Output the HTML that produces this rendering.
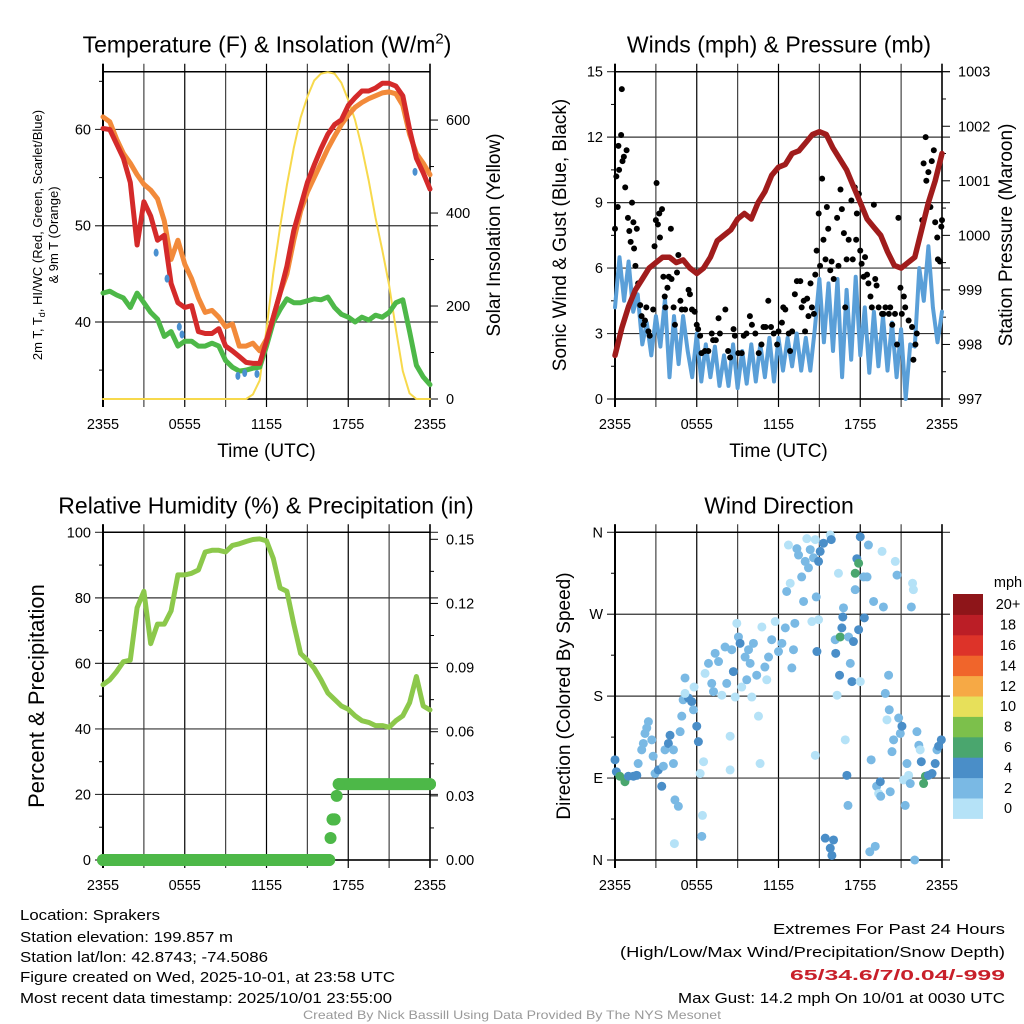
<!DOCTYPE html>
<html><head><meta charset="utf-8"><style>
html,body{margin:0;padding:0;background:#fff;}
svg{display:block;font-family:"Liberation Sans",sans-serif;}
</style></head><body>
<svg id="c" width="1024" height="1024" viewBox="0 0 1024 1024" xmlns="http://www.w3.org/2000/svg">
<rect width="1024" height="1024" fill="#fff"/>
<g id="p1"></g>
<g id="p2"></g>
<g id="p3"></g>
<g id="p4"></g>
<g font-size="14.5" fill="#000">
<text x="20" y="920" textLength="140" lengthAdjust="spacingAndGlyphs">Location: Sprakers</text>
<text x="20" y="942" textLength="213" lengthAdjust="spacingAndGlyphs">Station elevation: 199.857 m</text>
<text x="20" y="962" textLength="248" lengthAdjust="spacingAndGlyphs">Station lat/lon: 42.8743; -74.5086</text>
<text x="20" y="982" textLength="375" lengthAdjust="spacingAndGlyphs">Figure created on Wed, 2025-10-01, at 23:58 UTC</text>
<text x="20" y="1003" textLength="372" lengthAdjust="spacingAndGlyphs">Most recent data timestamp: 2025/10/01 23:55:00</text>
</g>
<g font-size="14.5" text-anchor="end">
<text x="1005" y="934" textLength="232" lengthAdjust="spacingAndGlyphs">Extremes For Past 24 Hours</text>
<text x="1005" y="957" textLength="385" lengthAdjust="spacingAndGlyphs">(High/Low/Max Wind/Precipitation/Snow Depth)</text>
<text x="1005" y="980" fill="#c8202a" font-weight="bold" textLength="215" lengthAdjust="spacingAndGlyphs">65/34.6/7/0.04/-999</text>
<text x="1005" y="1003" textLength="327" lengthAdjust="spacingAndGlyphs">Max Gust: 14.2 mph On 10/01 at 0030 UTC</text>
</g>
<text x="512" y="1019" font-size="12" fill="#999" text-anchor="middle" textLength="418" lengthAdjust="spacingAndGlyphs">Created By Nick Bassill Using Data Provided By The NYS Mesonet</text>
</svg>
<script>
// ---- data (hours since 2355 UTC) ----
const timeTicks = ["2355","0555","1155","1755","2355"];
const temp2m = [60.1,60,58.5,57,54.5,48,52.5,51,48.5,49,44,42,41.5,41.7,39,38.8,38.8,39.3,37.5,37,36.4,35.8,35.7,35.7,38,40.5,43,45.8,49.5,52,54.5,56.3,58,59.5,60.5,61,62.5,63.3,64,64,64.3,64.8,64.8,64.5,63.5,60,57,55.5,53.8];
const temp9m = [61.3,60.8,59,57.5,56.5,55.3,54.3,53.7,52.8,50.5,46.5,48.5,46,44.5,42.5,41,41.2,40.5,39.5,39.8,37.5,37.5,37.8,37,38.2,40.5,43,45,48.5,51.5,53.5,55,56.5,58,59.3,60.5,61.5,62.3,62.8,63.2,63.5,63.8,63.9,63.7,62.5,59.5,57.5,56.5,55.3];
const dewpoint = [43,43.2,42.8,42.5,41.5,43,42,41,40.3,38.5,39,37.5,38,38,37.5,37.5,37.8,37.5,36,35.3,34.9,35,35.2,35.3,37.5,40,41.3,42.4,42,42,42.2,42.4,42.3,42.6,41.5,40.8,40.5,40,40.5,40.2,40.7,40.5,41,42,42.3,39,35.5,34.3,33.5];
const windChillT = [3.9,4.7,5.6,5.8,9.9,10.4,11.3,22.9];
const windChillV = [47.2,44.5,39.5,38.7,34.4,34.7,34.6,55.6];
const solar = [0,0,0,0,0,0,0,0,0,0,0,0,0,0,0,0,0,0,0,0,0,0,10,40,150,270,370,460,540,605,650,685,700,703,700,680,643,600,540,470,390,320,245,150,60,12,0,0,0];
const pressure = [997.8,998.3,998.7,999.0,999.2,999.4,999.5,999.6,999.6,999.5,999.55,999.4,999.3,999.4,999.6,999.9,1000.0,1000.1,1000.3,1000.4,1000.3,1000.6,1000.8,1001.1,1001.25,1001.3,1001.5,1001.55,1001.7,1001.85,1001.9,1001.85,1001.6,1001.4,1001.2,1000.9,1000.6,1000.3,1000.15,1000.0,999.7,999.45,999.4,999.5,999.6,1000.1,1000.6,1001.0,1001.5];
const windSpeed = [4.2,6.5,4.5,6.3,4.0,4.8,2.5,3.5,2.0,3.8,2.4,4.6,1.0,3.8,1.6,3.8,2.2,1.0,3.0,0.8,2.5,1.0,2.4,0.6,2.0,0.6,2.5,0.5,2.2,0.7,2.5,0.8,2.5,1.0,2.8,0.8,2.8,1.3,2.8,1.5,3.0,1.3,2.8,1.3,3.2,5.5,2.6,5.3,2.2,5.5,1.0,5.0,1.8,5.6,2.0,4.2,1.2,4.0,1.5,3.8,1.3,3.5,1.0,3.2,0.0,2.5,2.4,6.0,4.5,7.0,4.2,2.6,4.0];
const gustT = [0,0.1,0.2,0.25,0.3,0.45,0.5,0.55,0.65,0.75,0.85,0.95,1.05,1.15,1.25,1.35,1.4,1.5,1.6,1.7,1.85,1.95,2.1,2.2,2.3,2.45,2.55,2.8,2.9,3.0,3.05,3.15,3.25,3.3,3.45,3.55,3.65,3.7,3.85,3.95,4.1,4.15,4.3,4.4,4.55,4.65,4.8,4.9,5.15,5.4,5.5,5.65,5.85,6.0,6.1,6.25,6.35,6.6,6.85,7.1,7.2,7.4,7.6,7.7,8.1,8.3,8.45,8.7,8.8,9.05,9.3,9.45,9.65,9.9,10.05,10.3,10.55,10.75,10.9,11.05,11.25,11.45,11.65,11.9,12.0,12.25,12.35,12.5,12.75,12.85,13.0,13.2,13.35,13.6,13.7,13.85,13.95,14.1,14.2,14.35,14.45,14.6,14.7,14.8,14.95,15.05,15.2,15.3,15.45,15.55,15.65,15.8,15.9,16.05,16.3,16.4,16.55,16.65,16.8,16.9,17.0,17.15,17.35,17.45,17.6,17.7,17.75,17.9,18.0,18.1,18.25,18.35,18.5,18.6,18.75,18.85,19.0,19.1,19.2,19.35,19.6,19.7,19.85,20.1,20.2,20.35,20.55,20.7,20.8,20.95,21.05,21.2,21.3,21.55,21.8,21.9,22.05,22.15,22.55,22.65,22.8,22.85,23.0,23.15,23.25,23.4,23.5,23.65,23.7,23.85,23.95,24];
const gustV = [7.8,10.2,8.8,11.6,10.5,12.1,14.2,10.9,11.1,9.7,11.4,8.3,7.7,7.2,9.0,8.1,6.9,6.1,7.8,5.3,4.3,3.8,3.4,3.6,4.2,3.1,2.9,4.1,7.0,8.2,9.9,8.0,8.5,7.4,8.7,5.6,4.7,4.2,5.1,5.6,7.8,5.5,4.2,3.4,5.8,6.6,4.5,4.1,4.1,5.0,4.8,4.1,4.0,3.4,3.2,2.9,2.1,2.2,2.2,3.0,2.7,2.7,3.7,3.0,4.1,2.2,1.9,3.2,2.9,2.1,2.1,2.9,3.0,3.8,3.4,3.0,2.1,2.5,3.3,3.3,4.5,3.3,3.0,2.5,3.1,3.5,4.2,4.1,3.0,2.2,3.1,4.8,5.4,5.4,4.2,4.5,3.1,4.6,3.8,5.3,4.2,3.9,5.7,6.8,8.5,6.1,10.1,7.3,6.4,8.8,7.8,5.9,6.3,5.5,8.3,6.1,9.6,8.7,7.6,4.2,6.4,7.3,9.1,6.4,9.7,7.3,8.5,9.4,6.8,6.2,5.6,6.5,5.7,5.3,4.7,4.2,8.9,5.5,5.2,4.2,3.9,3.9,4.2,3.9,4.2,3.4,3.9,2.5,8.3,5.1,3.9,4.7,4.2,3.6,3.3,1.8,2.5,3.0,8.2,10.8,12.0,10.0,10.4,8.8,10.9,11.4,8.1,7.4,6.4,6.3,7.9,8.2];
const rh = [53.5,55,57.5,60.5,61,77,82,66,72,72,76,87,87,87.5,88.5,94,94.5,94.5,94,96,96.5,97.2,97.8,98,97.4,92,83,82,72,63,61,58.5,55,51,49,47,46,44,42.5,42,41,41,40.5,42.5,44,48,56,47,45.8];
const precipT = [0,16.6,16.7,16.85,17.0,17.15,17.3,24];
const precipV = [0,0,0.0103,0.019,0.019,0.030,0.0355,0.0355];
const dirT = [0,0.1,0.35,0.73,0.98,1.35,1.6,1.7,1.96,2.08,2.2,2.33,2.45,2.7,2.8,2.94,3.18,3.43,3.55,3.67,3.92,4.04,4.29,4.29,4.4,4.65,4.36,4.78,4.9,5.0,5.14,5.39,5.63,5.76,6.0,6.12,5.14,5.8,6.25,6.5,6.42,6.37,6.61,6.86,7.1,7.23,7.35,7.6,7.84,8.08,8.2,8.45,8.45,8.57,8.69,8.82,8.94,9.06,9.18,9.3,9.55,9.67,9.8,9.92,10.04,10.16,10.4,10.53,10.65,10.78,11.0,11.14,11.27,11.5,11.76,12,12.25,12.5,12.6,12.73,12.86,12.98,13.1,13.2,13.35,13.47,13.7,13.84,13.96,14.08,14.2,14.33,14.45,14.57,14.7,14.77,14.82,14.94,15.06,15.3,15.8,15.87,14.94,14.7,15.43,15.8,15.92,16.04,16.3,16.16,16.2,16.4,16.48,16.53,16.65,16.77,16.72,16.9,17.02,17.1,17.14,17.27,17.39,17.5,17.63,17.63,17.75,17.88,17.88,18.0,18.0,18.25,18.3,18.5,18.6,18.7,18.8,18.98,19.1,19.2,19.35,19.47,19.5,19.6,19.7,19.84,19.96,20.08,20.13,20.2,20.33,20.45,20.57,20.7,20.82,20.94,21.06,21.18,21.3,21.43,21.55,21.67,21.75,21.84,21.9,22,22.16,22.3,22.4,22.48,22.65,22.78,23.0,23.27,23.5,23.63,23.75,23.95];
const dirV = [110,97,92,86,92,92,93,106,121,128,139,145,152,132,114,95,99,81,103,121,128,137,121,106,66,59,18,141,158,176,200,178,174,165,147,130,183,190,95,108,49,26,205,216,194,185,227,218,181,234,194,136,99,231,207,179,260,245,238,190,223,198,231,216,179,238,203,158,106,256,212,198,223,242,262,229,238,255,295,346,304,211,231,260,342,335,311,284,328,353,321,341,262,332,352,289,229,328,339,348,357,352,264,115,24,13,5,22,181,242,227,315,203,245,255,277,267,132,93,60,245,216,196,240,297,315,331,326,253,196,355,311,266,311,346,9,110,284,15,81,73,86,70,339,278,183,154,203,165,75,119,132,328,313,156,139,147,88,60,106,93,84,278,304,297,0,141,126,121,108,84,92,93,95,106,121,125,132];
const dirSpd = [5,5,7,7,5,5,5,3,3,3,3,3,3,3,3,3,5,5,3,3,5,5,3,3,3,3,1,3,3,3,3,5,5,3,5,5,1,1,1,1,1,3,1,3,3,3,3,3,1,3,3,1,1,3,5,1,1,3,5,1,3,3,3,3,1,3,3,1,1,1,3,1,3,3,1,3,3,3,3,1,1,3,3,3,3,3,3,3,3,1,3,3,1,3,1,3,5,5,5,5,1,5,1,1,5,5,5,5,1,3,5,1,5,7,5,3,5,1,5,3,3,3,5,5,3,7,5,7,5,1,5,3,5,3,3,3,3,3,3,3,1,5,3,1,3,3,1,3,3,3,3,3,1,3,3,3,5,1,3,3,1,3,3,1,1,3,3,3,1,5,7,7,5,5,5,3,5,5];
const tempTicks = [40,50,60];
const solarTicks = [0,200,400,600];
const windTicks = [0,3,6,9,12,15];
const presTicks = [997,998,999,1000,1001,1002,1003];
const rhTicks = [0,20,40,60,80,100];
const precipTicks = ["0.00","0.03","0.06","0.09","0.12","0.15"];
const dirTicks = ["N","E","S","W","N"];
const spdLevels = ["0","2","4","6","8","10","12","14","16","18","20+"];
const spdColors = ["#b5e2f7","#7ab9e4","#4a8ec8","#4aa66e","#7cc04b","#e7e05a","#f6a945","#f0652b","#dd3329","#bb1e26","#8e1519"];

const NS="http://www.w3.org/2000/svg";
function el(parent,tag,attrs){const e=document.createElementNS(NS,tag);for(const k in attrs)e.setAttribute(k,attrs[k]);parent.appendChild(e);return e;}
function lin(d0,d1,r0,r1){return v=>r0+(v-d0)*(r1-r0)/(d1-d0);}
function hoursOf(arr){return arr.map((_,i)=>i*24/(arr.length-1));}

function frame(g,L,R,T,B,yTicks,yFn,yLabels,rTicks,rFn,rLabels,title,titleX,xTitle){
  const X=lin(0,24,L,R);
  for(let h=0;h<=24;h+=3){
    const x=X(h);
    const l=el(g,'line',{x1:x,x2:x,y1:T-8,y2:B+8,stroke:(h%6===0)?'#000':'#444','stroke-width':1.2});
    
    
  }
  // minor ticks on left axis (midpoints)
  for(let i=0;i<yTicks.length;i++){
    const y=yFn(yTicks[i]);
    const y2=i+1<yTicks.length?yFn(yTicks[i+1]):y-(yFn(yTicks[0])-yFn(yTicks[1]));
    const ym=(y+y2)/2;
    if(ym>=T-1&&ym<=B+1) el(g,'line',{x1:L-4,x2:L,y1:ym,y2:ym,stroke:'#000','stroke-width':1});
    const yb=y+(y-y2)/2;
    if(i===0&&yb>=T-1&&yb<=B+1) el(g,'line',{x1:L-4,x2:L,y1:yb,y2:yb,stroke:'#000','stroke-width':1});
  }
  yTicks.forEach((v,i)=>{
    const y=yFn(v);
    const l=el(g,'line',{x1:L-8,x2:R+8,y1:y,y2:y,stroke:'#333','stroke-width':1.2});
    
    
    const t=el(g,'text',{x:L-12,y:y+5,'font-size':14.5,'text-anchor':'end'});
    t.textContent=yLabels[i];
    
    
  });
  if(rTicks){rTicks.forEach((v,i)=>{
    const y=rFn(v);
    el(g,'line',{x1:R,x2:R+8,y1:y,y2:y,stroke:'#000','stroke-width':1});
    if(i+1<rTicks.length){const ym=(y+rFn(rTicks[i+1]))/2; el(g,'line',{x1:R,x2:R+4,y1:ym,y2:ym,stroke:'#000','stroke-width':1});}
    const t=el(g,'text',{x:R+16,y:y+5,'font-size':14.5});
    t.textContent=rLabels[i];
    
    
  });}
  el(g,'line',{x1:L,x2:R,y1:T,y2:T,stroke:'#000','stroke-width':1.5});
  el(g,'line',{x1:L,x2:R,y1:B,y2:B,stroke:'#000','stroke-width':1.5});
  el(g,'line',{x1:L,x2:L,y1:T-8,y2:B+8,stroke:'#000','stroke-width':2});
  el(g,'line',{x1:R,x2:R,y1:T-8,y2:B+8,stroke:'#000','stroke-width':1.5});
  timeTicks.forEach((s,i)=>{
    const t=el(g,'text',{x:X(i*6),y:B+30,'font-size':14.5,'text-anchor':'middle'});
    t.textContent=s;
    
    
  });
  const tt=el(g,'text',{x:titleX,y:T-19,'font-size':23,'text-anchor':'middle'});
  tt.innerHTML=title;
  
  
  if(xTitle){const xt=el(g,'text',{x:(L+R)/2,y:B+58,'font-size':19,'text-anchor':'middle'});
    xt.textContent=xTitle;
    
    }
  return X;
}
function line(g,X,Y,ts,vs,color,w,name){
  const d=ts.map((t,i)=>(i?'L':'M')+X(t).toFixed(1)+','+Y(vs[i]).toFixed(1)).join('');
  const p=el(g,'path',{d:d,fill:'none',stroke:color,'stroke-width':w,'stroke-linejoin':'round','stroke-linecap':'round'});
  
  
  return p;
}
function vlabel(g,x,y,size,txt,name){
  const t=el(g,'text',{x:x,y:y,'font-size':size,'text-anchor':'middle',transform:`rotate(-90 ${x} ${y})`});
  t.innerHTML=txt;
  
  
}

// Panel 1
(function(){
  const g=document.getElementById('p1');
  const L=103,R=430,T=71.7,B=399;
  const Y=lin(32,66,B,T), YS=lin(0,704,B,T);
  const X=frame(g,L,R,T,B,tempTicks,Y,tempTicks.map(String),solarTicks,YS,solarTicks.map(String),'Temperature (F) &amp; Insolation (W/m<tspan dy="-9" font-size="15">2</tspan><tspan dy="9">)</tspan>',267,'Time (UTC)');
  line(g,X,YS,hoursOf(solar),solar,'#f7d94c',2,'solar-insolation-line');
  line(g,X,Y,hoursOf(dewpoint),dewpoint,'#4db848',5,'dewpoint-line');
  line(g,X,Y,hoursOf(temp9m),temp9m,'#f28a3a',5,'temp-9m-line');
  line(g,X,Y,hoursOf(temp2m),temp2m,'#d42a2a',5,'temp-2m-line');
  windChillT.forEach((t,i)=>{
    const c=el(g,'ellipse',{cx:X(t),cy:Y(windChillV[i]),rx:2.5,ry:4,fill:'#4a90d0'});
    
    
  });
  vlabel(g,42,235,13,'2m T, T<tspan dy="3" font-size="9">d</tspan><tspan dy="-3">, HI/WC (Red, Green, Scarlet/Blue)</tspan>','left-axis-title-line1');
  vlabel(g,58,235,13,'&amp; 9m T (Orange)','left-axis-title-line2');
  vlabel(g,500,235,19,'Solar Insolation (Yellow)','right-axis-title');
})();

// Panel 2
(function(){
  const g=document.getElementById('p2');
  const L=615,R=942,T=71.7,B=399;
  const Y=lin(0,15,B,T), YP=lin(997,1003,B,T);
  const X=frame(g,L,R,T,B,windTicks,Y,windTicks.map(String),presTicks,YP,presTicks.map(String),'Winds (mph) &amp; Pressure (mb)',779,'Time (UTC)');
  line(g,X,Y,hoursOf(windSpeed),windSpeed,'#5a9fd8',4,'sonic-wind-line');
  gustT.forEach((t,i)=>{
    const c=el(g,'circle',{cx:X(t),cy:Y(gustV[i]),r:3,fill:'#000'});
    
    
  });
  line(g,X,YP,hoursOf(pressure),pressure,'#a01c1c',5.5,'pressure-line');
  vlabel(g,566,235,19,'Sonic Wind &amp; Gust (Blue, Black)','left-axis-title');
  vlabel(g,1012,235,19,'Station Pressure (Maroon)','right-axis-title');
})();

// Panel 3
(function(){
  const g=document.getElementById('p3');
  const L=103,R=430,T=532.3,B=860;
  const Y=lin(0,100,B,T), YP=lin(0,0.15,B,539.3);
  frame(g,L,R,T,B,rhTicks,Y,rhTicks.map(String),precipTicks.map(Number),YP,precipTicks,'Relative Humidity (%) &amp; Precipitation (in)',266,null);
  const X=lin(0,24,L,R);
  line(g,X,Y,hoursOf(rh),rh,'#8cc84b',5,'relative-humidity-line');
  for(let i=1;i<precipT.length;i++){
    if(precipV[i]===precipV[i-1]){
      const l=el(g,'line',{x1:X(precipT[i-1]),x2:X(precipT[i]),y1:YP(precipV[i]),y2:YP(precipV[i]),stroke:'#4db848','stroke-width':12,'stroke-linecap':'round'});
      
      
    }
  }
  precipT.forEach((t,i)=>{
    const c=el(g,'circle',{cx:X(t),cy:YP(precipV[i]),r:6,fill:'#4db848'});
    
    
  });
  vlabel(g,44,696,22,'Percent &amp; Precipitation','left-axis-title');
})();

// Panel 4
(function(){
  const g=document.getElementById('p4');
  const L=615,R=942,T=532.3,B=860;
  const Y=lin(0,360,B,T);
  const X=frame(g,L,R,T,B,[0,90,180,270,360],Y,dirTicks,null,null,null,'Wind Direction',779,null);
  dirT.forEach((t,i)=>{
    const s=(dirSpd[i]===undefined)?3:dirSpd[i];
    const c=el(g,'circle',{cx:X(t),cy:Y(dirV[i]),r:4.5,fill:spdColors[Math.min(10,Math.floor(s/2))]});
    
    
  });
  vlabel(g,570,696,19,'Direction (Colored By Speed)','left-axis-title');
  const cb=el(g,'g',{});
  
  
  const top=594,h=20.4;
  spdLevels.forEach((lab,i)=>{
    const y=top+(10-i)*h;
    const r=el(cb,'rect',{x:953,y:y,width:30,height:h+0.5,fill:spdColors[i]});
    
    
    const t=el(cb,'text',{x:1008,y:y+h/2+5,'font-size':14.5,'text-anchor':'middle'});
    t.textContent=lab;
    
    
  });
  const u=el(cb,'text',{x:1008,y:587,'font-size':14.5,'text-anchor':'middle'});
  u.textContent='mph';
  
  
})();
</script>
</body></html>
